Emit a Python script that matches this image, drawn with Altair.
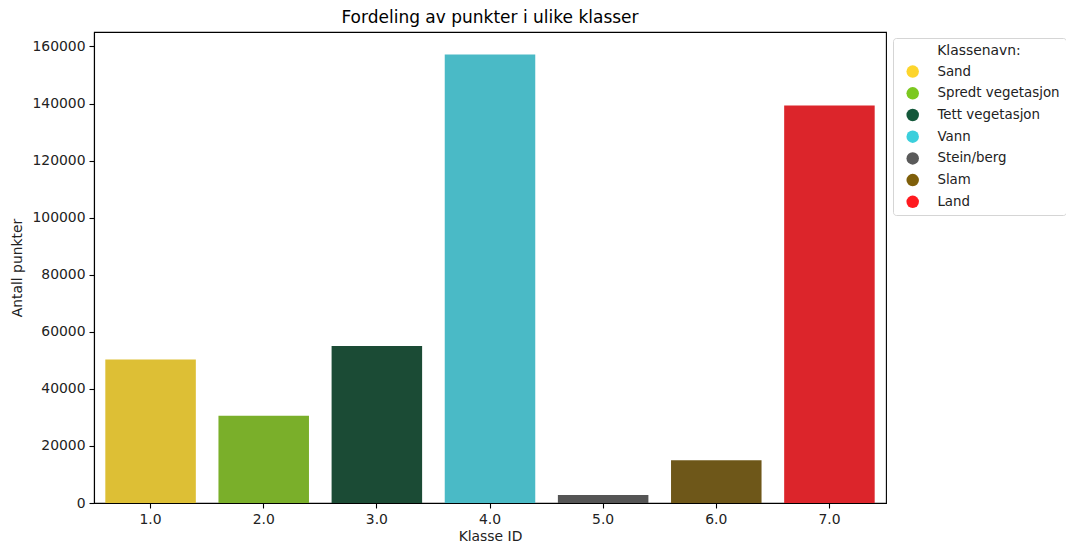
import altair as alt
import pandas as pd

class_ids = ["1.0", "2.0", "3.0", "4.0", "5.0", "6.0", "7.0"]
class_names = ["Sand", "Spredt vegetasjon", "Tett vegetasjon", "Vann", "Stein/berg", "Slam", "Land"]
counts = [50300, 30600, 55000, 157200, 2800, 15000, 139300]
bar_colors = ["#DDBF35", "#7AAF2A", "#1B4B35", "#4ABAC6", "#555555", "#6E5719", "#DC252B"]
legend_colors = ["#FDD52C", "#7CC820", "#13583A", "#3BCFDC", "#5A5A5A", "#7F5F0A", "#FF1A1F"]
y_ticks = [0, 20000, 40000, 60000, 80000, 100000, 120000, 140000, 160000]

df = pd.DataFrame({"Klasse ID": class_ids, "Klassenavn": class_names, "Antall punkter": counts})

FONT = "DejaVu Sans"

x_enc = alt.X(
    "Klasse ID:N",
    title="Klasse ID",
    sort=class_ids,
    scale=alt.Scale(paddingInner=0.2, paddingOuter=0.1),
    axis=alt.Axis(labelAngle=0),
)
y_enc = alt.Y(
    "Antall punkter:Q",
    title="Antall punkter",
    scale=alt.Scale(domain=[0, 165076], nice=False),
    axis=alt.Axis(values=y_ticks, format="d"),
)

bars = alt.Chart(df).mark_bar().encode(
    x=x_enc,
    y=y_enc,
    color=alt.Color("Klasse ID:N", scale=alt.Scale(domain=class_ids, range=bar_colors), legend=None),
)

legend_layer = alt.Chart(df).mark_circle(opacity=0).encode(
    x=x_enc,
    y=y_enc,
    fill=alt.Fill(
        "Klassenavn:N",
        sort=class_names,
        scale=alt.Scale(domain=class_names, range=legend_colors),
        legend=alt.Legend(
            title="Klassenavn:",
            orient="none",
            legendX=799,
            legendY=6,
            symbolOpacity=1,
            symbolType="circle",
            symbolSize=156,
            symbolStrokeWidth=0,
            symbolOffset=7,
            labelOffset=18,
            rowPadding=6.7,
            titlePadding=7,
            titleAnchor="middle",
            padding=6,
            strokeColor="#d5d5d5",
            fillColor="white",
            cornerRadius=3,
            labelLimit=300,
        ),
    ),
)

chart = (
    alt.layer(bars, legend_layer)
    .resolve_legend(color="independent", fill="independent")
    .properties(
        width=792,
        height=471,
        title=alt.TitleParams(
            "Fordeling av punkter i ulike klasser",
            font=FONT,
            fontSize=17,
            fontWeight="normal",
            color="#000000",
            anchor="middle",
            offset=5,
        ),
        autosize=alt.AutoSizeParams(type="none"),
        padding={"left": 86, "top": 24, "right": 180, "bottom": 40},
    )
    .configure_view(stroke="#000000", strokeWidth=1.1)
    .configure_axis(
        grid=False,
        domainColor="#000000",
        domainWidth=1.1,
        tickColor="#000000",
        tickSize=5,
        tickWidth=1.1,
        labelFont=FONT,
        labelFontSize=13.9,
        labelColor="#222222",
        labelPadding=4,
        titleFont=FONT,
        titleFontSize=13.9,
        titleFontWeight="normal",
        titleColor="#222222",
    )
    .configure_axisY(titlePadding=7)
    .configure_axisX(titlePadding=4)
    .configure_legend(
        labelFont=FONT,
        labelFontSize=13.4,
        labelColor="#222222",
        titleFont=FONT,
        titleFontSize=13.9,
        titleFontWeight="normal",
        titleColor="#222222",
    )
)

chart.save("out.html", embed_options={"renderer": "svg", "actions": False})
